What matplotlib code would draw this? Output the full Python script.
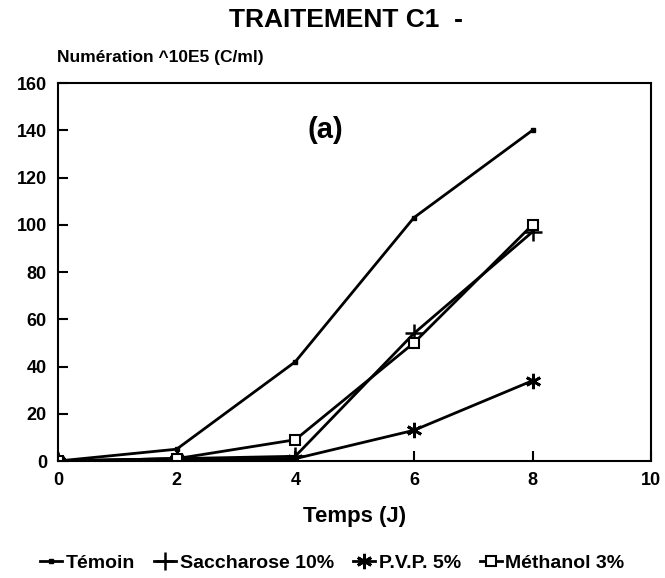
import matplotlib.pyplot as plt

# jours et numérations (x 10E5 C/ml)
jours = [0, 2, 4, 6, 8]
temoin = [0, 5, 42, 103, 140]
saccharose = [0, 1, 2, 54, 97]
pvp = [0, 1, 1, 13, 34]
methanol = [0, 1, 9, 50, 100]

noms = ["Témoin", "Saccharose 10%", "P.V.P. 5%", "Méthanol 3%"]

plt.rcParams['font.family'] = ['Liberation Sans', 'DejaVu Sans']
plt.rcParams['font.weight'] = 'bold'

fig = plt.figure(figsize=(6.65, 5.78), dpi=100)
ax = fig.add_axes([0.0872, 0.2024, 0.892, 0.654])

ax.plot(jours, temoin, color='black', lw=2, marker='s', ms=3, label=noms[0])
ax.plot(jours, saccharose, color='black', lw=2, marker='+', ms=13, mew=1.8, label=noms[1])
ax.plot(jours, pvp, color='black', lw=2, marker=(6, 2, 0), ms=11, mew=2, label=noms[2])
ax.plot(jours, methanol, color='black', lw=2, marker='s', ms=7, mfc='white', mew=1.5, label=noms[3])

ax.set_xlim(0, 10)
ax.set_ylim(0, 160)
ax.set_xticks([0, 2, 4, 6, 8, 10])
ax.set_yticks(range(0, 161, 20))
ax.tick_params(direction='in', length=7, width=1.5, labelsize=13, pad=8)
for lab in ax.get_xticklabels() + ax.get_yticklabels():
    lab.set_fontweight('bold')
for s in ax.spines.values():
    s.set_linewidth(1.5)

ax.set_xlabel('Temps (J)', fontsize=16, fontweight='bold', labelpad=12)
ax.text(4.5, 140, '(a)', fontsize=21, fontweight='bold', ha='center', va='center')

fig.text(0.52, 0.965, 'TRAITEMENT C1  -', fontsize=19, fontweight='bold', ha='center', va='center')
fig.text(0.086, 0.901, 'Numération ^10E5 (C/ml)', fontsize=12.5, fontweight='bold', ha='left', va='center')

fig.legend(loc='center', bbox_to_anchor=(0.5, 0.026), ncol=4, frameon=False,
           handlelength=1.1, handletextpad=0.2, columnspacing=1.0,
           prop={'weight': 'bold', 'size': 14})

fig.savefig('out.png', dpi=100)
